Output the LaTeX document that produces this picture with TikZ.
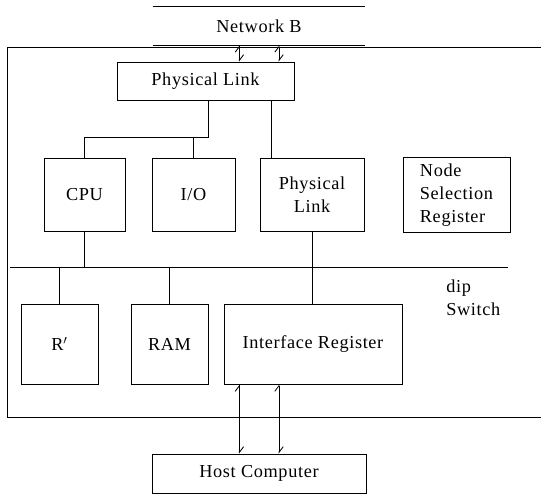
\documentclass[tikz,border=0pt]{standalone}
\usepackage{fontspec}
\setmainfont{Liberation Serif}[LetterSpace=3.5]
\usetikzlibrary{arrows.meta, positioning, calc}

\begin{document}
\begin{tikzpicture}[
    x=0.025cm, y=-0.025cm,
    box/.style={draw, line width=0.6pt, align=center, inner sep=0pt,
                font=\fontsize{13}{16.5}\selectfont},
    label/.style={align=left, inner sep=0pt, font=\fontsize{13}{16.5}\selectfont},
    wire/.style={line width=0.6pt},
    dblarrow/.style={{Straight Barb[left,length=4pt,width=6pt]}-{Straight Barb[left,length=4pt,width=6pt]}, line width=0.6pt},
]
\useasboundingbox (0,0) rectangle (541,495);

% network and host
\node[label, minimum width=5.3cm, minimum height=0.95cm] (net) at (259,26) {Network B};
\draw[wire] (net.north west) -- (net.north east);
\draw[wire] (net.south west) -- (net.south east);
\node[box, minimum width=5.35cm, minimum height=0.975cm] (host) at (259,473.5) {Host Computer};

% frame of the node
\draw[wire] (541,47) -- (7,47) -- (7,417) -- (541,417);

% upper row
\node[box, minimum width=4.425cm, minimum height=0.95cm] (plink) at (205.5,81) {Physical Link};
\node[box, minimum width=2.025cm, minimum height=1.825cm] (cpu) at (84.5,194.5) {CPU};
\node[box, minimum width=2.075cm, minimum height=1.825cm] (io) at (193.5,194.5) {I/O};
\node[box, minimum width=2.6cm, minimum height=1.825cm] (plink2) at (312,194.5) {Physical\\Link};
\node[box, minimum width=2.675cm, minimum height=1.875cm, align=left] (nsr) at (456.5,195) {Node\\Selection\\Register};

% lower row
\node[box, minimum width=1.925cm, minimum height=2cm] (rp) at (59.5,344) {R$'$};
\node[box, minimum width=1.925cm, minimum height=2cm] (ram) at (169.5,344) {RAM};
\node[box, minimum width=4.45cm, minimum height=2cm] (ifr) at (313,344) {Interface Register};
\node[label, anchor=west] (dip) at (446,298) {dip\\Switch};

% bus
\coordinate (busL) at (10,267);
\coordinate (busR) at (508,267);
\draw[wire] (busL) -- (busR);

\coordinate (j1) at (208,137);
\coordinate (l2) at (271,0);
\draw[wire] (plink.south -| j1) -- (j1) -| (cpu.north);
\draw[wire] (io.north) -- (io.north |- j1);
\draw[wire] (plink.south -| l2) -- (plink2.north -| l2);
\draw[wire] (cpu.south) -- (cpu.south |- busL);
\draw[wire] (plink2.south) -- (ifr.north -| plink2.south);
\draw[wire] (rp.north) -- (rp.north |- busL);
\draw[wire] (ram.north) -- (ram.north |- busL);

\draw[dblarrow] ([xshift=-0.49cm]net.south) -- ([xshift=-0.49cm]net.south |- plink.north);
\draw[dblarrow] ([xshift=0.5cm]net.south) -- ([xshift=0.5cm]net.south |- plink.north);
\draw[dblarrow] ([xshift=-0.49cm]host.north) -- ([xshift=-0.49cm]host.north |- ifr.south);
\draw[dblarrow] ([xshift=0.5cm]host.north) -- ([xshift=0.5cm]host.north |- ifr.south);
\end{tikzpicture}
\end{document}
